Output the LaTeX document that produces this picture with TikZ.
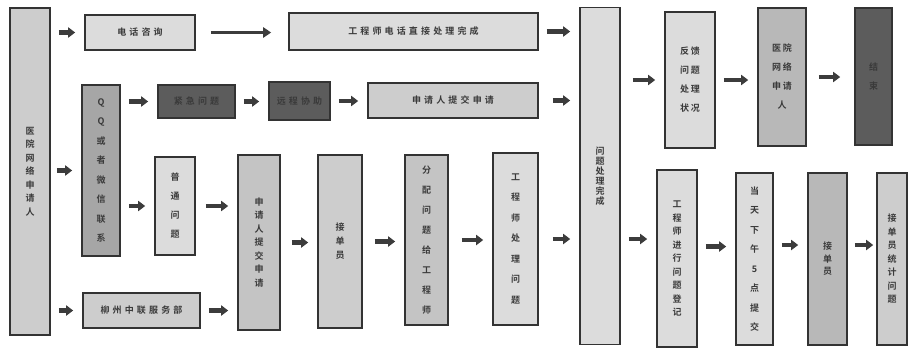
\documentclass[tikz,border=0pt]{standalone}
\usepackage{fontspec}
\setmainfont{Noto Sans CJK SC}[BoldFont={Noto Sans CJK SC Bold}]
\newfontfamily\cjk{Noto Sans CJK SC Bold}[LetterSpace=35]
\newfontfamily\cjkpair{Noto Sans CJK SC Bold}[LetterSpace=20]
\usetikzlibrary{arrows.meta}
\definecolor{boxline}{HTML}{333333}
\definecolor{arrowc}{HTML}{3C3C3C}
\definecolor{txt}{HTML}{3A3A3A}
\definecolor{fA}{HTML}{DCDCDC}
\definecolor{fB}{HTML}{CDCDCD}
\definecolor{fC}{HTML}{C4C4C4}
\definecolor{fQ}{HTML}{A6A6A6}
\definecolor{fH}{HTML}{B8B8B8}
\definecolor{fD}{HTML}{5C5C5C}
\tikzset{
  pbox/.style={draw=boxline, line width=1.6pt, fill=#1, inner sep=0pt, text=txt, align=center},
  hfont/.style={font=\cjk\fontsize{9}{11}\selectfont},
  vfont/.style={font=\bfseries\fontsize{9}{#1}\selectfont},
  pfont/.style={font=\cjkpair\fontsize{9}{#1}\selectfont},
  arr/.style={-{Triangle[length=7pt,width=10pt]}, line width=4.5pt, draw=arrowc, shorten <=8pt, shorten >=9pt},
}
\begin{document}
\begin{tikzpicture}[x=1pt,y=-1pt]
\useasboundingbox[fill=white] (0,0) rectangle (909,351);
% left column
\node[pbox=fB, vfont=13.5, minimum width=40, minimum height=327] (L) at (30,171.5) {医\\院\\网\\络\\申\\请\\人};
% row 1
\node[pbox=fA, hfont, minimum width=110, minimum height=35] (tel) at (140,32.5) {电话咨询};
\node[pbox=fA, hfont, minimum width=249, minimum height=37] (eng1) at (413.5,31.5) {工程师电话直接处理完成};
% row 2
\node[pbox=fQ, vfont=19.5, minimum width=38, minimum height=171] (qq) at (101,170.5) {Q\\Q\\或\\者\\微\\信\\联\\系};
\node[pbox=fD, hfont, minimum width=77, minimum height=33] (urg) at (196.5,101.5) {紧急问题};
\node[pbox=fD, hfont, minimum width=61, minimum height=38] (rem) at (299.5,101) {远程协助};
\node[pbox=fB, hfont, minimum width=170, minimum height=35] (app1) at (453,100.5) {申请人提交申请};
% row 3
\node[pbox=fA, vfont=19, minimum width=40, minimum height=98] (nor) at (175,206) {普\\通\\问\\题};
\node[pbox=fC, vfont=13.5, minimum width=42, minimum height=175] (app2) at (259,242.5) {申\\请\\人\\提\\交\\申\\请};
\node[pbox=fB, vfont=14, minimum width=44, minimum height=173] (jdy) at (340,241.5) {接\\单\\员};
\node[pbox=fC, vfont=20, minimum width=43, minimum height=170] (asg) at (426.5,240) {分\\配\\问\\题\\给\\工\\程\\师};
\node[pbox=fA, vfont=20.5, minimum width=45, minimum height=172] (engp) at (515.5,239) {工\\程\\师\\处\\理\\问\\题};
% bottom
\node[pbox=fB, hfont, minimum width=117, minimum height=35] (lz) at (141.5,310.5) {柳州中联服务部};
% done
\node[pbox=fA, vfont=10, minimum width=40, minimum height=337] (done) at (600,176) {问\\题\\处\\理\\完\\成};
% right top
\node[pbox=fA, pfont=19, minimum width=50, minimum height=136] (fb) at (690,80) {反馈\\问题\\处理\\状况};
\node[pbox=fH, pfont=19, minimum width=48, minimum height=138] (hosp) at (782,77) {医院\\网络\\申请\\人};
\node[pbox=fD, vfont=19, minimum width=37, minimum height=137] (fin) at (873.5,76.5) {结\\束};
% right bottom
\node[pbox=fA, vfont=13.5, minimum width=40, minimum height=177] (reg) at (677,258.5) {工\\程\\师\\进\\行\\问\\题\\登\\记};
\node[pbox=fA, vfont=19.5, minimum width=37, minimum height=172] (by5) at (754.5,259) {当\\天\\下\\午\\5\\点\\提\\交};
\node[pbox=fH, vfont=12.5, minimum width=39, minimum height=172] (jdy2) at (827.5,259) {接\\单\\员};
\node[pbox=fB, vfont=13.5, minimum width=30, minimum height=172] (stat) at (892,259) {接\\单\\员\\统\\计\\问\\题};
% arrows
\draw[arr] (L.east |- tel.west) -- (tel.west);
\draw[arrowc, line width=3pt, -{Triangle[length=8pt,width=10pt]}, shorten <=15pt, shorten >=17pt] (tel.east) -- (tel.east -| eng1.west);
\draw[arr] (eng1.east) -- (eng1.east -| done.west);
\draw[arr, shorten <=6pt] (L.east |- qq.west) -- (qq.west);
\draw[arr] (qq.east |- urg.west) -- (urg.west);
\draw[arr] (urg.east) -- (urg.east -| rem.west);
\draw[arr] (rem.east) -- (rem.east -| app1.west);
\draw[arr, shorten <=14pt] (app1.east) -- (app1.east -| done.west);
\draw[arr] (qq.east |- nor.west) -- (nor.west);
\draw[arr, shorten <=10pt] (nor.east) -- (nor.east -| app2.west);
\draw[arr] (L.east |- lz.west) -- (lz.west);
\draw[arr] (lz.east) -- (lz.east -| app2.west);
\draw[arr, shorten <=11pt] (app2.east) -- (app2.east -| jdy.west);
\draw[arr, shorten <=12pt] (jdy.east) -- (jdy.east -| asg.west);
\draw[arr, shorten <=13pt] (asg.east) -- (asg.east -| engp.west);
\draw[arr, shorten <=14pt] (engp.east) -- (engp.east -| done.west);
\draw[arr, shorten <=12pt] (done.east |- fb.west) -- (fb.west);
\draw[arr] (fb.east) -- (fb.east -| hosp.west);
\draw[arr, shorten <=12pt, shorten >=14pt] (hosp.east) -- (hosp.east -| fin.west);
\draw[arr] (done.east |- engp.east) -- (reg.west |- engp.east);
\draw[arr] ([yshift=12pt]reg.east) -- ([yshift=12pt]reg.east -| by5.west);
\draw[arr] ([yshift=14pt]by5.east) -- ([yshift=14pt]by5.east -| jdy2.west);
\draw[arr, shorten <=7pt, shorten >=3pt] ([yshift=14pt]jdy2.east) -- ([yshift=14pt]jdy2.east -| stat.west);
\end{tikzpicture}
\end{document}
